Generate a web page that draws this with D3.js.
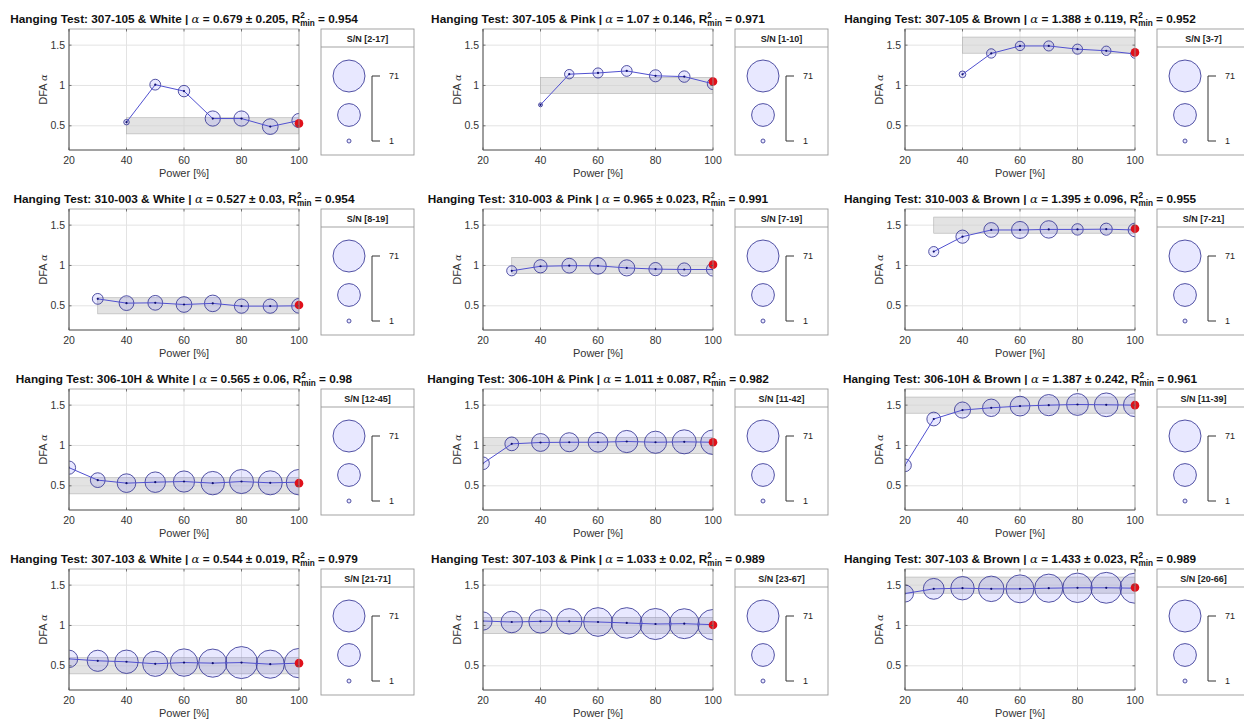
<!DOCTYPE html>
<html>
<head>
<meta charset="utf-8">
<script src="https://cdn.jsdelivr.net/npm/d3@7"></script>
<style>
	body { margin: 0; background: #fff; }
	svg { font-family: "Liberation Sans", Arial, Helvetica, sans-serif; }
</style>
</head>
<body>
<div id="chart"></div>
<script>
// ---- data ----
var sensors = ["307-105", "310-003", "306-10H", "307-103"];
var noiseTypes = ["White", "Pink", "Brown"];
var powerTicks = [20, 40, 60, 80, 100];
var alphaTicks = [0.5, 1, 1.5];

// expected alpha band per noise type
var bandLow = [0.4, 0.9, 1.4];
var bandHigh = [0.6, 1.1, 1.6];

// per panel (row-major: sensor x noise)
var alphaMean = [0.679, 1.07, 1.388, 0.527, 0.965, 1.395, 0.565, 1.011, 1.387, 0.544, 1.033, 1.433];
var alphaStd = [0.205, 0.146, 0.119, 0.03, 0.023, 0.096, 0.06, 0.087, 0.242, 0.019, 0.02, 0.023];
var r2min = [0.954, 0.971, 0.952, 0.954, 0.991, 0.955, 0.98, 0.982, 0.961, 0.979, 0.989, 0.989];
var snLabel = ["[2-17]", "[1-10]", "[3-7]", "[8-19]", "[7-19]", "[7-21]", "[12-45]", "[11-42]", "[11-39]", "[21-71]", "[23-67]", "[20-66]"];
var startPower = [40, 40, 40, 30, 30, 30, 20, 20, 20, 20, 20, 20];

var dfaAlpha = [
	[0.545, 1.01, 0.93, 0.59, 0.59, 0.49, 0.565],
	[0.76, 1.14, 1.155, 1.18, 1.12, 1.11, 1.02],
	[1.138, 1.397, 1.49, 1.49, 1.45, 1.43, 1.39],
	[0.586, 0.533, 0.537, 0.516, 0.53, 0.496, 0.496, 0.5],
	[0.934, 0.99, 0.997, 0.995, 0.97, 0.955, 0.95, 0.95],
	[1.172, 1.357, 1.44, 1.44, 1.447, 1.447, 1.45, 1.44],
	[0.725, 0.57, 0.533, 0.545, 0.553, 0.533, 0.553, 0.537, 0.545],
	[0.779, 1.02, 1.037, 1.04, 1.04, 1.049, 1.04, 1.045, 1.04],
	[0.754, 1.328, 1.439, 1.467, 1.488, 1.5, 1.508, 1.504, 1.5],
	[0.586, 0.562, 0.55, 0.525, 0.54, 0.533, 0.54, 0.52, 0.533],
	[1.055, 1.043, 1.051, 1.051, 1.043, 1.031, 1.018, 1.022, 1.01],
	[1.396, 1.454, 1.462, 1.454, 1.454, 1.462, 1.467, 1.467, 1.462]
];

var snValues = [
	[2, 8, 9, 16, 16, 17, 14],
	[1, 6, 7, 8, 10, 9, 9],
	[3, 6, 6, 7, 7, 6, 5],
	[8, 15, 15, 17, 19, 14, 14, 15],
	[7, 12, 15, 19, 18, 12, 12, 12],
	[7, 12, 15, 20, 21, 9, 10, 13],
	[12, 15, 24, 29, 31, 38, 40, 40, 45],
	[11, 13, 22, 25, 27, 34, 34, 40, 42],
	[11, 13, 18, 21, 27, 31, 33, 39, 37],
	[21, 31, 38, 44, 52, 55, 71, 55, 60],
	[23, 32, 38, 45, 57, 65, 67, 62, 64],
	[20, 30, 38, 45, 54, 55, 60, 66, 63]
];

// alpha at 100 % (red marker)
var refAlpha = [0.53, 1.05, 1.41, 0.51, 1.01, 1.455, 0.533, 1.04, 1.5, 0.533, 1.006, 1.47];

var legendSizes = [71, 36, 1];

// ---- layout ----
var width = 1244, height = 721;
var colLeft = [69, 483, 905];
var rowTop = [29, 209, 389, 569];
var plotW = 230, plotH = 121;
var legW = 93, legH = 126;

var svg = d3.select("#chart").append("svg")
	.attr("width", width)
	.attr("height", height);

// bubble area is linear in S/N
var areaScale = d3.scaleLinear().domain([1, 71]).range([2 * 2, 16 * 16]);
function radius(s) { return Math.sqrt(areaScale(s)); }

var bubbleFill = "rgb(50,50,255)", bubbleStroke = "#40409a";

for (var i = 0; i < 12; i++) drawPanel(i);

function drawPanel(i) {
	var row = Math.floor(i / 3), col = i % 3;
	var left = colLeft[col], top = rowTop[row];

	var x = d3.scaleLinear().domain([20, 100]).range([left, left + plotW]);
	var y = d3.scaleLinear().domain([0.2, 1.7]).range([top + plotH, top]);

	var g = svg.append("g");

	// grid
	g.selectAll(".gx").data(powerTicks).enter().append("line")
		.attr("x1", (d) => x(d)).attr("x2", (d) => x(d))
		.attr("y1", top).attr("y2", top + plotH)
		.attr("stroke", "#e3e3e3").attr("stroke-width", 1);
	g.selectAll(".gy").data(alphaTicks).enter().append("line")
		.attr("x1", left).attr("x2", left + plotW)
		.attr("y1", (d) => y(d)).attr("y2", (d) => y(d))
		.attr("stroke", "#e3e3e3").attr("stroke-width", 1);

	var clipId = "clip" + i;
	svg.append("clipPath").attr("id", clipId).append("rect")
		.attr("x", left).attr("y", top).attr("width", plotW).attr("height", plotH);

	var pts = dfaAlpha[i].map((a, k) => ({ p: startPower[i] + 10 * k, a: a, s: snValues[i][k] }));

	var inner = g.append("g").attr("clip-path", "url(#" + clipId + ")");

	// expected band
	var ni = col;
	inner.append("rect")
		.attr("x", x(startPower[i])).attr("width", x(100) - x(startPower[i]))
		.attr("y", y(bandHigh[ni])).attr("height", y(bandLow[ni]) - y(bandHigh[ni]))
		.attr("fill", "#d0d0d0").attr("fill-opacity", 0.6)
		.attr("stroke", "#b0b0b0").attr("stroke-width", 0.6);

	// bubbles
	inner.selectAll(".bubble").data(pts).enter().append("circle")
		.attr("class", "bubble")
		.attr("cx", (d) => x(d.p)).attr("cy", (d) => y(d.a))
		.attr("r", (d) => radius(d.s))
		.attr("fill", bubbleFill).attr("fill-opacity", 0.11)
		.attr("stroke", bubbleStroke).attr("stroke-width", 0.9);

	// line
	inner.append("path")
		.datum(pts)
		.attr("d", d3.line().x((d) => x(d.p)).y((d) => y(d.a)))
		.attr("fill", "none").attr("stroke", "#5050d0").attr("stroke-width", 1);

	inner.selectAll(".dot").data(pts).enter().append("circle")
		.attr("cx", (d) => x(d.p)).attr("cy", (d) => y(d.a))
		.attr("r", 1.1).attr("fill", "#101070");

	// red marker (drawn unclipped)
	g.append("circle")
		.attr("cx", x(100)).attr("cy", y(refAlpha[i]))
		.attr("r", 4.3).attr("fill", "#e0101a");

	// axes box
	g.append("rect")
		.attr("x", left).attr("y", top).attr("width", plotW).attr("height", plotH)
		.attr("fill", "none").attr("stroke", "#9a9a9a").attr("stroke-width", 0.8);
	g.append("path")
		.attr("d", "M" + left + "," + top + "V" + (top + plotH) + "H" + (left + plotW))
		.attr("fill", "none").attr("stroke", "#555").attr("stroke-width", 0.8);

	// ticks (inward, all four sides)
	g.selectAll(".tx").data(powerTicks).enter().append("path")
		.attr("d", (d) => "M" + x(d) + "," + (top + plotH) + "v-2.5M" + x(d) + "," + top + "v2.5")
		.attr("stroke", "#555").attr("stroke-width", 0.8);
	g.selectAll(".ty").data(alphaTicks).enter().append("path")
		.attr("d", (d) => "M" + left + "," + y(d) + "h2.5M" + (left + plotW) + "," + y(d) + "h-2.5")
		.attr("stroke", "#555").attr("stroke-width", 0.8);

	// tick labels
	g.selectAll(".lx").data(powerTicks).enter().append("text")
		.attr("x", (d) => x(d)).attr("y", top + plotH + 14)
		.attr("text-anchor", "middle").attr("font-size", 10.5).attr("fill", "#333")
		.text((d) => d);
	g.selectAll(".ly").data(alphaTicks).enter().append("text")
		.attr("x", left - 4).attr("y", (d) => y(d) + 3.6)
		.attr("text-anchor", "end").attr("font-size", 10.5).attr("fill", "#333")
		.text((d) => d);

	// axis titles
	g.append("text")
		.attr("x", left + plotW / 2).attr("y", top + plotH + 27)
		.attr("text-anchor", "middle").attr("font-size", 11).attr("fill", "#333")
		.text("Power [%]");
	var yl = g.append("text")
		.attr("transform", "translate(" + (left - 22) + "," + (top + plotH / 2) + ") rotate(-90)")
		.attr("text-anchor", "middle").attr("font-size", 11).attr("fill", "#333");
	yl.append("tspan").text("DFA ");
	yl.append("tspan").attr("font-family", "'DejaVu Serif', serif").attr("font-style", "italic").attr("font-size", 10).text("α");

	// title
	var t = g.append("text")
		.attr("x", left + plotW / 2).attr("y", top - 6.5)
		.attr("text-anchor", "middle").attr("font-size", 11.8).attr("font-weight", "bold").attr("fill", "#111");
	t.append("tspan").text("Hanging Test: " + sensors[row] + " & " + noiseTypes[col] + " | ");
	t.append("tspan").attr("font-family", "'DejaVu Serif', serif").attr("font-style", "italic").attr("font-weight", "normal").text("α");
	t.append("tspan").text(" = " + alphaMean[i] + " ± " + alphaStd[i] + ", R");
	t.append("tspan").attr("font-size", 8.2).attr("dy", -4.5).text("2");
	t.append("tspan").attr("font-size", 8.2).attr("dx", -4.5).attr("dy", 8).text("min");
	t.append("tspan").attr("dy", -3.5).text(" = " + r2min[i]);

	// bubble legend
	var lx = left + 252, ly = top;
	var lg = svg.append("g");
	lg.append("rect").attr("x", lx).attr("y", ly).attr("width", legW).attr("height", legH)
		.attr("fill", "#fff").attr("stroke", "#999").attr("stroke-width", 0.9);
	lg.append("line").attr("x1", lx).attr("x2", lx + legW).attr("y1", ly + 18).attr("y2", ly + 18)
		.attr("stroke", "#999").attr("stroke-width", 0.9);
	lg.append("text").attr("x", lx + legW / 2).attr("y", ly + 12.5)
		.attr("text-anchor", "middle").attr("font-size", 9).attr("font-weight", "bold").attr("fill", "#222")
		.text("S/N " + snLabel[i]);

	var legY = [ly + 47, ly + 86, ly + 112];
	lg.selectAll(".lb").data(legendSizes).enter().append("circle")
		.attr("cx", lx + 28).attr("cy", (d, k) => legY[k])
		.attr("r", (d) => radius(d))
		.attr("fill", bubbleFill).attr("fill-opacity", 0.11)
		.attr("stroke", bubbleStroke).attr("stroke-width", 0.9);

	var bx = lx + 51;
	lg.append("path")
		.attr("d", "M" + (bx + 8) + "," + legY[0] + "H" + bx + "V" + legY[2] + "H" + (bx + 8))
		.attr("fill", "none").attr("stroke", "#333").attr("stroke-width", 1);
	lg.append("text").attr("x", bx + 17).attr("y", legY[0] + 3).attr("font-size", 9).attr("fill", "#222").text(legendSizes[0]);
	lg.append("text").attr("x", bx + 17).attr("y", legY[2] + 3).attr("font-size", 9).attr("fill", "#222").text(legendSizes[2]);
}
</script>
</body>
</html>
